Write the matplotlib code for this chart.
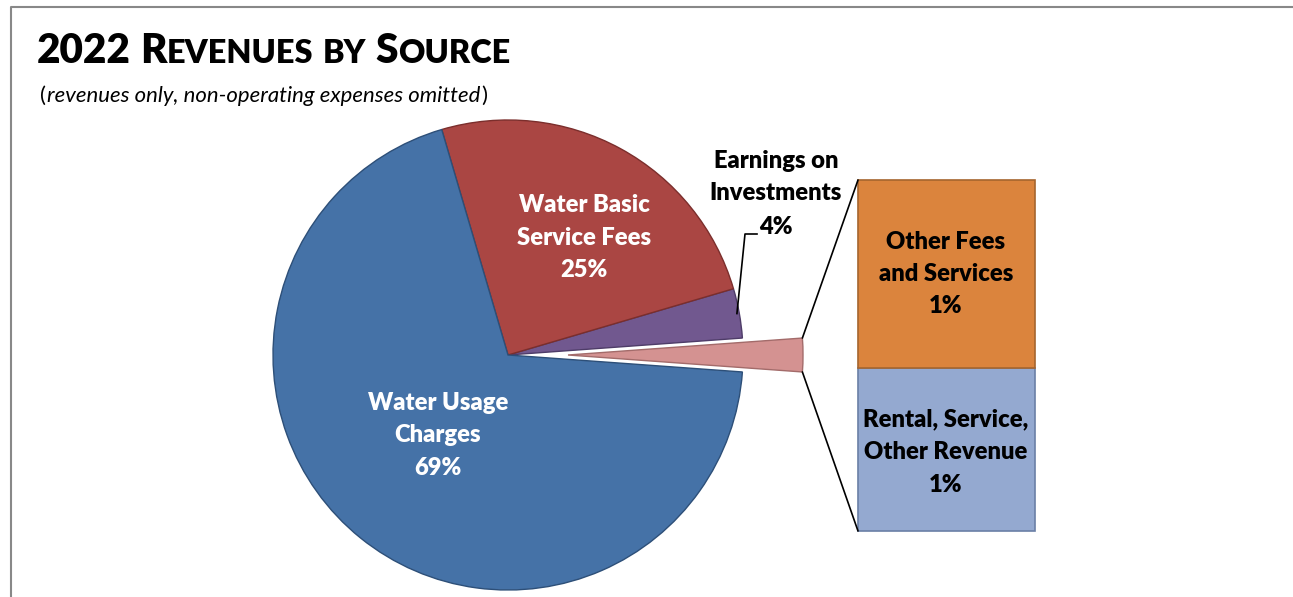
import matplotlib
matplotlib.use('Agg')
import matplotlib.pyplot as plt
import numpy as np
from matplotlib.patches import ConnectionPatch
from matplotlib.lines import Line2D

# ---------------- data ----------------
pie_categories = ['Water Usage\nCharges', 'Water Basic\nService Fees', 'Earnings on\nInvestments']
pie_values = [69.3, 25.0, 3.4]
pie_pct = ['69%', '25%', '4%']
bar_categories = ['Rental, Service,\nOther Revenue', 'Other Fees\nand Services']
bar_values = [1.07, 1.23]
bar_pct = ['1%', '1%']
title_words = [[('2022', 'L')], [('R', 'L'), ('EVENUES', 'S')], [('BY', 'S')], [('S', 'L'), ('OURCE', 'S')]]
subtitle = 'revenues only, non-operating expenses omitted'

# ---------------- style ----------------
W, H, DPI = 1293, 597, 100
FONT = 'Lato'
WEIGHT = 'heavy'
pie_colors = ['#4572A7', '#AA4643', '#71588F']
pie_edges = ['#2D4F78', '#7B2E2C', '#4E3C68']
other_color, other_edge = '#D49291', '#A36B6A'
bar_colors = ['#94A9D0', '#DB843D']
bar_edges = ['#6A7FA6', '#A5652E']

fig = plt.figure(figsize=(W / DPI, H / DPI), dpi=DPI)
fig.patch.set_facecolor('white')
renderer = fig.canvas.get_renderer()


def fx(x):
    return x / W


def fy(y):
    return 1 - y / H


def text_width(s, size, **kw):
    t = fig.text(0, 0, s, fontsize=size, family=FONT, **kw)
    w = t.get_window_extent(renderer).width
    t.remove()
    return w


# ---------------- main axes in pixel units ----------------
ax = fig.add_axes([0, 0, 1, 1])
other_total = sum(bar_values)
vals = [other_total, pie_values[2], pie_values[1], pie_values[0]]
cols = [other_color, pie_colors[2], pie_colors[1], pie_colors[0]]
edges = [other_edge, pie_edges[2], pie_edges[1], pie_edges[0]]
R = 235
cx, cy = 508, H - 355
start = -other_total / sum(vals) * 360 / 2
wedges, _ = ax.pie(vals, colors=cols, startangle=start, counterclock=True,
                   center=(cx, cy), radius=R, explode=[60, 0, 0, 0],
                   wedgeprops=dict(linewidth=1.0))
for w, e in zip(wedges, edges):
    w.set_edgecolor(e)
ax.set_xlim(0, W)
ax.set_ylim(0, H)
ax.set_aspect('auto')
ax.axis('off')

# ---------------- bar of pie ----------------
ax2 = fig.add_axes([fx(858), fy(531), 177 / W, 351 / H])
bottom = 0
for v, c, e in zip(bar_values, bar_colors, bar_edges):
    b = ax2.bar(0, v, width=1.0, bottom=bottom, color=c, edgecolor=e, linewidth=1.2)
    for p in b:
        p.set_clip_on(False)
    bottom += v
ax2.set_xlim(-0.5, 0.5)
ax2.set_ylim(0, other_total)
ax2.axis('off')

# connectors
ow = wedges[0]
ocx, ocy = ow.center
for th, yb in [(ow.theta2, other_total), (ow.theta1, 0)]:
    p = (ocx + ow.r * np.cos(np.radians(th)), ocy + ow.r * np.sin(np.radians(th)))
    con = ConnectionPatch(xyA=p, coordsA=ax.transData, xyB=(-0.5, yb), coordsB=ax2.transData,
                          color='black', linewidth=1.2)
    fig.add_artist(con)

# ---------------- labels ----------------
lab_size = 10 * 131 / text_width('Water Basic', 10, fontweight=WEIGHT)


def multiline(x, baselines, lines, color):
    for yb, ln in zip(baselines, lines):
        fig.text(fx(x), fy(yb), ln, ha='center', va='baseline', fontsize=lab_size,
                 family=FONT, fontweight=WEIGHT, color=color)


multiline(438, [410, 442, 475], pie_categories[0].split('\n') + [pie_pct[0]], 'white')
multiline(584, [212, 245, 277], pie_categories[1].split('\n') + [pie_pct[1]], 'white')
multiline(776, [168, 200, 234], pie_categories[2].split('\n') + [pie_pct[2]], 'black')
multiline(946, [249, 281, 313], bar_categories[1].split('\n') + [bar_pct[1]], 'black')
multiline(946, [426, 459, 492], bar_categories[0].split('\n') + [bar_pct[0]], 'black')

# leader line for earnings
pw = wedges[1]
mid = np.radians((pw.theta1 + pw.theta2) / 2)
sx, sy = cx + 0.99 * R * np.cos(mid), cy + 0.99 * R * np.sin(mid)
ax.plot([sx, 745, 757], [sy, H - 234, H - 234], color='black', linewidth=1.2)

# ---------------- title ----------------
BIG, SMALL = 10, 8


def title_width(scale):
    tot = 0
    for word in title_words:
        for s, k in word:
            tot += text_width(s, (BIG if k == 'L' else SMALL) * scale, fontweight=WEIGHT)
    sp = text_width('a a', BIG * scale, fontweight=WEIGHT) - text_width('aa', BIG * scale, fontweight=WEIGHT)
    return tot + sp * (len(title_words) - 1)


scale = 473 / title_width(1.0)
scale = scale * 473 / title_width(scale)
sp = text_width('a a', BIG * scale, fontweight=WEIGHT) - text_width('aa', BIG * scale, fontweight=WEIGHT)
x = 37
for word in title_words:
    for s, k in word:
        size = (BIG if k == 'L' else SMALL) * scale
        t = fig.text(fx(x), fy(63), s, fontsize=size, family=FONT, fontweight=WEIGHT,
                     va='baseline', ha='left', color='black')
        x += t.get_window_extent(renderer).width
    x += sp


# subtitle
def sub_width(size):
    return (text_width('(', size) + text_width(subtitle, size, style='italic')
            + text_width(')', size))


ssize = 10 * 445 / sub_width(10)
x = 40
for s, st in [('(', 'normal'), (subtitle, 'italic'), (')', 'normal')]:
    t = fig.text(fx(x), fy(102), s, fontsize=ssize, family=FONT, style=st,
                 va='baseline', ha='left', color='black')
    x += t.get_window_extent(renderer).width + 1

# ---------------- border ----------------
fig.add_artist(Line2D([fx(10.5), fx(10.5), 1.0], [0, fy(7), fy(7)], transform=fig.transFigure,
                      color='#888888', linewidth=1.5))

fig.savefig('out.png', dpi=DPI, facecolor='white')
